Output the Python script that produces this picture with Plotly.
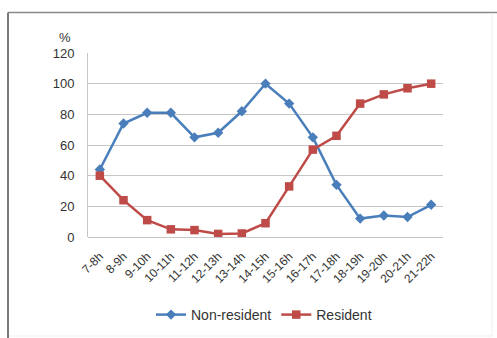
import plotly.graph_objects as go

categories = ["7-8h", "8-9h", "9-10h", "10-11h", "11-12h", "12-13h", "13-14h",
              "14-15h", "15-16h", "16-17h", "17-18h", "18-19h", "19-20h", "20-21h", "21-22h"]
non_resident = [44, 74, 81, 81, 65, 68, 82, 100, 87, 65, 34, 12, 14, 13, 21]
resident = [40, 24, 11, 5, 4.5, 2, 2.3, 9, 33, 57, 66, 87, 93, 97, 100]
y_ticks = [0, 20, 40, 60, 80, 100, 120]

W, H = 497, 338
L, R, T, B = 88, 54, 53, 101
pw, ph = W - L - R, H - T - B


def px(x):
    return (x - L) / pw


def py(y):
    return (H - B - y) / ph


fig = go.Figure()
fig.add_trace(go.Scatter(x=categories, y=non_resident, name="Non-resident",
                         mode="lines+markers",
                         line=dict(color="#4A7EBB", width=2.5),
                         marker=dict(symbol="diamond", size=8, color="#4A7EBB")))
fig.add_trace(go.Scatter(x=categories, y=resident, name="Resident",
                         mode="lines+markers",
                         line=dict(color="#BE4B48", width=2.5),
                         marker=dict(symbol="square", size=8.5, color="#BE4B48")))

fam = "Liberation Sans, Arial, sans-serif"

fig.update_layout(
    width=W, height=H,
    margin=dict(l=L, r=R, t=T, b=B, autoexpand=False),
    paper_bgcolor="white", plot_bgcolor="white",
    font=dict(family=fam, size=12, color="#333333"),
    showlegend=True,
    legend=dict(orientation="h", x=px(264), xanchor="center", y=py(315), yanchor="middle",
                font=dict(family=fam, size=14, color="#333333"),
                itemwidth=30, tracegroupgap=0, bgcolor="rgba(0,0,0,0)"),
    xaxis=dict(type="category", tickangle=-45, showgrid=False, showline=False,
               ticks="", ticklabelstandoff=9, automargin=False,
               tickfont=dict(family=fam, size=12, color="#333333"),
               range=[-0.5, len(categories) - 0.5]),
    yaxis=dict(range=[0, 120], tickvals=y_ticks, showgrid=True, gridcolor="#C6C6C6",
               gridwidth=1, showline=True, linecolor="#C6C6C6", linewidth=1,
               zeroline=True, zerolinecolor="#C6C6C6", zerolinewidth=1,
               ticks="", ticklabelstandoff=10, automargin=False,
               tickfont=dict(family=fam, size=13, color="#333333")),
    annotations=[dict(text="%", xref="paper", yref="paper", x=px(65), y=py(38),
                      xanchor="center", yanchor="middle", showarrow=False,
                      font=dict(family=fam, size=13, color="#333333"))],
    shapes=[
        dict(type="line", xref="paper", yref="paper", x0=px(8), x1=px(497), y0=py(12.5), y1=py(12.5),
             line=dict(color="#8A8A8A", width=1.5)),
        dict(type="line", xref="paper", yref="paper", x0=px(8), x1=px(8), y0=py(12.5), y1=py(338),
             line=dict(color="#7A7A7A", width=2)),
        dict(type="line", xref="paper", yref="paper", x0=px(492), x1=px(492), y0=py(13), y1=py(336),
             line=dict(color="#EFEFEF", width=1)),
        dict(type="line", xref="paper", yref="paper", x0=px(9), x1=px(492), y0=py(336), y1=py(336),
             line=dict(color="#EFEFEF", width=1)),
    ],
)

fig.write_html("out.html")
